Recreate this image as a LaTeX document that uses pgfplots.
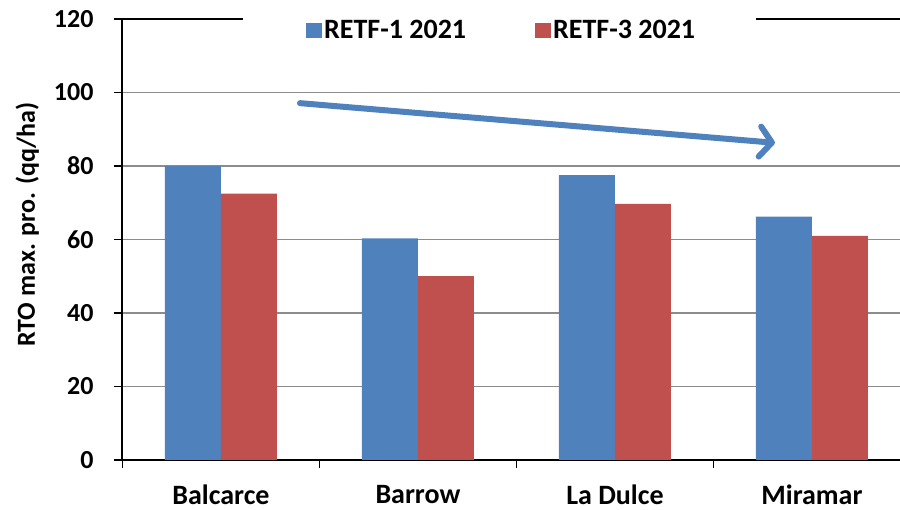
\documentclass[border=0pt]{standalone}
\usepackage{fontspec}
\setmainfont{Carlito}
\usepackage{pgfplots}
\pgfplotsset{compat=1.18}
\usetikzlibrary{arrows.meta, calc}
\definecolor{retfblue}{HTML}{4F81BD}
\definecolor{retfred}{HTML}{C0504D}
\definecolor{gridgray}{HTML}{8C8C8C}

\begin{document}
\begin{tikzpicture}
  \begin{axis}[
    scale only axis, width=778pt, height=441pt,
    xmin=-0.5025, xmax=3.447, ymin=0, ymax=120,
    ybar=0pt, bar width=56pt,
    axis x line=bottom, axis y line=left,
    axis line style={-, line width=1.2pt, black},
    xtick={0,1,2,3},
    xticklabels={Balcarce,Barrow,La Dulce,Miramar},
    minor xtick={-0.5,0.5,1.5,2.5},
    major x tick style={draw=none},
    minor x tick style={line width=1.2pt, black},
    minor tick length=8pt,
    ytick={0,20,...,100},
    extra y ticks={120},
    extra y tick style={ymajorgrids=false},
    y tick style={line width=1.2pt, black},
    major tick length=8pt,
    tick align=outside,
    ymajorgrids, grid style={gridgray, line width=1.2pt},
    xticklabel style={font=\fontsize{28}{32}\selectfont\bfseries,
      text depth=0pt, yshift=-13.5pt},
    yticklabel style={font=\fontsize{26}{30}\selectfont\bfseries, xshift=-17pt},
    /pgf/number format/assume math mode=true,
    ylabel={RTO max. pro. (qq/ha)},
    ylabel style={font=\fontsize{26}{30}\selectfont\bfseries,
      yshift=-8pt, xshift=15pt},
    legend columns=2,
    legend style={at={(0.488,1)}, anchor=center, yshift=-11pt,
      draw=none, fill=none,
      font=\fontsize{28}{32}\selectfont\bfseries,
      /tikz/every even column/.append style={column sep=67pt}},
    legend image code/.code={\fill[#1, draw=none] (0pt,-8pt) rectangle (16pt,7pt);},
  ]
  \addplot[fill=retfblue, draw=none] coordinates {(0,80) (1,60.3) (2,77.5) (3,66.2)};
  \addlegendentry{RETF-1 2021}
  \addplot[fill=retfred, draw=none] coordinates {(0,72.5) (1,50) (2,69.7) (3,61)};
  \addlegendentry{RETF-3 2021}
  % top line, broken by the legend
  \draw[black, line width=1.2pt] (axis cs:-0.5025,120) -- (axis cs:0.112,120);
  \draw[black, line width=1.2pt] (axis cs:2.716,120) -- (axis cs:3.447,120);
  % trend arrow
  \draw[retfblue, line width=6pt, line cap=round,
    -{Straight Barb[length=12pt, width=30pt, line cap=round, line join=round]}]
    (axis cs:0.401,97.1) -- (axis cs:2.812,86.3);
  \coordinate (SW) at (rel axis cs:0,0);
  \coordinate (NE) at (rel axis cs:1,1);
  \end{axis}
  \pgfresetboundingbox
  \path ($(SW)+(-122pt,-50pt)$) rectangle ($(NE)+(0pt,19pt)$);
\end{tikzpicture}
\end{document}
